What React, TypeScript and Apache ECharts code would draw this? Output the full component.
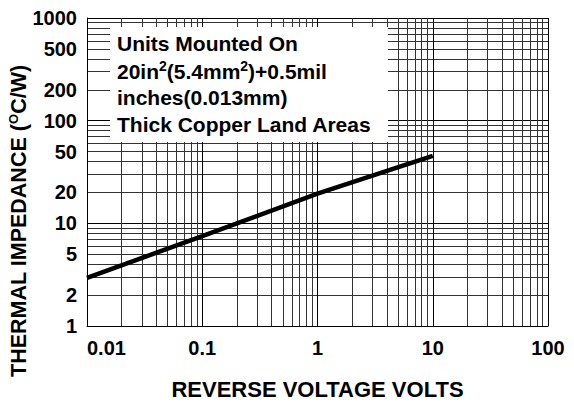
import React, { useEffect, useRef } from "react";
import * as echarts from "echarts";

const xTickLabels = ["0.01", "0.1", "1", "10", "100"];
const yLabelValues = [1, 2, 5, 10, 20, 50, 100, 200, 500, 1000];
const voltage = [0.01, 0.1, 1, 10];
const impedance = [2.95, 7.5, 19.5, 45.5];
const boxLines = [
  "Units Mounted On",
  "{n|20in}{s|2}{n|(5.4mm}{s|2}{n|)+0.5mil}",
  "inches(0.013mm)",
  "Thick Copper Land Areas",
];

const FONT = "'Liberation Sans', Arial, Helvetica, sans-serif";

export default function App() {
  const ref = useRef<HTMLDivElement>(null);
  useEffect(() => {
    if (!ref.current) return;
    const chart = echarts.init(ref.current, null, { renderer: "svg" });
    const lineY = [43, 71, 97, 124];
    const option: any = {
      animation: false,
      backgroundColor: "#fff",
      grid: { left: 87, right: 26, top: 18, bottom: 77, containLabel: false, outerBoundsMode: "none" },
      xAxis: {
        type: "log",
        logBase: 10,
        min: 0.01,
        max: 100,
        name: "REVERSE VOLTAGE VOLTS",
        nameLocation: "middle",
        nameGap: 52,
        nameMoveOverlap: false,
        nameTextStyle: { fontFamily: FONT, fontWeight: "bold", fontSize: 22, color: "#000" },
        axisLine: { show: true, lineStyle: { color: "#000", width: 1 } },
        axisTick: { show: false },
        axisLabel: {
          fontFamily: FONT,
          fontWeight: "bold",
          fontSize: 20,
          color: "#000",
          margin: 12,
          showMinLabel: true,
          showMaxLabel: true,
          alignMinLabel: "left",
          formatter: (_v: number, i: number) => xTickLabels[i] ?? String(_v),
        },
        splitLine: { show: true, lineStyle: { color: "#000", width: 1 } },
        minorTick: { show: false, splitNumber: 9 },
        minorSplitLine: { show: true, lineStyle: { color: "#333", width: 1 } },
      },
      yAxis: {
        type: "log",
        logBase: 10,
        min: 1,
        max: 1000,
        name: "{n|THERMAL IMPEDANCE (}{s|O}{n|C/W)}",
        nameLocation: "middle",
        nameGap: 56,
        nameMoveOverlap: false,
        nameTextStyle: {
          fontFamily: FONT,
          fontWeight: "bold",
          fontSize: 21,
          color: "#000",
          padding: [0, 98, 0, 0],
          rich: {
            n: { fontFamily: FONT, fontWeight: "bold", fontSize: 21.5, color: "#000", lineHeight: 24, verticalAlign: "middle" },
            s: { fontFamily: FONT, fontWeight: "bold", fontSize: 13, color: "#000", lineHeight: 24, verticalAlign: "top" },
          },
        },
        axisLine: { show: true, lineStyle: { color: "#000", width: 1 } },
        axisTick: { show: false },
        axisLabel: {
          fontFamily: FONT,
          fontWeight: "bold",
          fontSize: 20,
          color: "#000",
          margin: 10,
          showMinLabel: true,
          showMaxLabel: true,
          customValues: yLabelValues,
          formatter: (v: number) => String(Math.round(v)),
        },
        splitLine: { show: true, lineStyle: { color: "#000", width: 1 } },
        minorTick: { show: false, splitNumber: 9 },
        minorSplitLine: { show: true, lineStyle: { color: "#333", width: 1 } },
      },
      series: [
        {
          type: "line",
          data: voltage.map((v, i) => [v, impedance[i]]),
          symbol: "none",
          lineStyle: { color: "#000", width: 4.5 },
          z: 10,
        },
      ],
      graphic: [
        {
          type: "rect",
          z: 100,
          shape: { x: 110, y: 27, width: 278, height: 115 },
          style: { fill: "#fff" },
        },
        ...boxLines.map((t, i) => ({
          type: "text",
          z: 101,
          x: 117,
          y: lineY[i],
          style: {
            text: t,
            fontFamily: FONT,
            fontWeight: "bold",
            fontSize: 21,
            fill: "#000",
            verticalAlign: "middle",
            rich: {
              n: { fontFamily: FONT, fontWeight: "bold", fontSize: 21, fill: "#000", lineHeight: 24, verticalAlign: "middle" },
              s: { fontFamily: FONT, fontWeight: "bold", fontSize: 14, fill: "#000", lineHeight: 24, verticalAlign: "top" },
            },
          },
        })),
      ],
    };
    chart.setOption(option);
    return () => chart.dispose();
  }, []);
  return (
    <div
      ref={ref}
      style={{ position: "absolute", left: 0, top: 0, width: 574, height: 403, background: "#fff" }}
    />
  );
}
